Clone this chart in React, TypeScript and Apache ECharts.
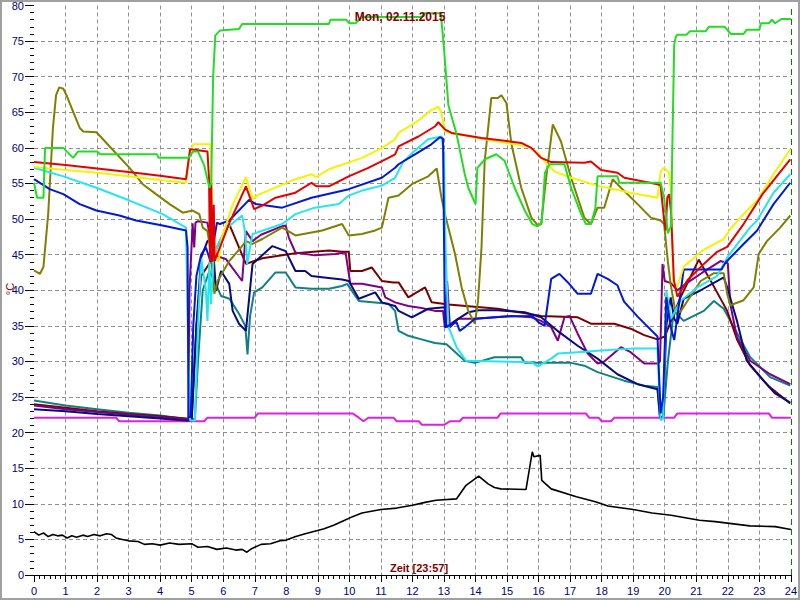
import React, { useEffect, useRef } from "react";
import * as echarts from "echarts";

// ---- data: [hour, °C] ----
const hourTicks = Array.from({ length: 25 }, (_, i) => String(i));
const tempTicks = Array.from({ length: 17 }, (_, i) => String(i * 5));

const greenData = [[0,55.1],[0.1,53],[0.3,53],[0.35,60],[0.93,60],[1.24,58.6],[1.4,59.5],[2.0,59.5],[2.1,59.1],[3.9,59.1],[3.95,58.6],[4.9,58.6],[5.05,59.5],[5.2,59.5],[5.4,57.5],[5.56,54.4],[5.62,55],[5.68,70],[5.75,75.8],[5.9,76.5],[6.5,76.7],[6.6,77.4],[9.35,77.4],[9.4,78.0],[9.9,78.0],[10.0,77.5],[10.2,77.5],[10.4,78.4],[12.3,78.4],[12.35,78.9],[12.9,78.9],[13.0,74],[13.14,66],[13.4,61.9],[13.66,56.3],[13.77,54.4],[14.0,52.1],[14.06,57.2],[14.3,58.4],[14.66,59.1],[14.92,58.2],[15.24,54.4],[15.56,51.2],[15.8,49.3],[15.95,49.0],[16.1,49.5],[16.2,56.5],[16.35,57.7],[16.82,57.7],[17.03,54.4],[17.35,50.7],[17.5,49.3],[17.66,49.3],[17.8,51.5],[17.87,56.0],[18.5,56.0],[18.56,55.1],[19.87,55.1],[19.98,53],[20.1,48],[20.2,49],[20.24,60],[20.3,74.5],[20.35,75.6],[20.4,75.9],[20.7,75.9],[20.8,76.4],[21.3,76.4],[21.4,77.0],[21.9,77.0],[22.1,76.0],[22.5,76.0],[22.6,76.6],[23.0,76.6],[23.05,77.5],[23.3,77.5],[23.4,78.0],[23.5,77.5],[23.7,78.1],[24,78.1]];

const yellowData = [[0,57.3],[1,56.9],[2,56.5],[3,56],[4,55.5],[4.82,55.1],[4.92,59],[5.05,60.5],[5.6,60.5],[5.65,52],[5.75,45],[5.85,44],[5.95,47.3],[6.3,52],[6.72,55.9],[6.93,52.8],[7.1,53.4],[8.29,55.6],[8.8,56.3],[8.95,55.9],[9.35,57],[10.4,58.6],[11.03,60],[11.45,61.2],[11.56,62.1],[12.08,63.5],[12.6,65.3],[12.82,65.8],[12.92,64.9],[13.03,62.3],[13.24,62.1],[14.08,61.4],[14.7,60.9],[15.66,60.2],[15.98,59.3],[16.19,58.1],[16.5,56.7],[17.03,55.8],[17.87,54.7],[18.9,53.7],[19.77,53.0],[19.87,56.7],[19.98,57.2],[20.14,56.5],[20.19,54.0],[20.28,41],[20.4,40.5],[20.6,43.3],[21.2,45.6],[21.87,47.2],[22.08,48.6],[22.5,50.7],[22.93,52.6],[23.45,56.3],[23.98,59.8]];

const redData = [[0,58.0],[1,57.6],[2,57.1],[3,56.6],[4,56.1],[4.82,55.6],[4.95,59.8],[5.5,59.5],[5.55,55.7],[5.58,44],[5.62,55],[5.66,44],[5.7,52],[5.73,44.1],[5.77,44.6],[6.2,49.5],[6.72,54.6],[6.98,51.4],[7.24,51.9],[7.66,53],[8.29,53.7],[8.8,55.1],[8.95,54.6],[9.35,54.6],[9.98,56],[10.6,57.2],[11.24,58.6],[11.45,59.1],[11.56,60.2],[12.19,61.6],[12.71,63.0],[12.82,63.6],[13.03,62.6],[13.24,62.1],[14.19,61.4],[14.92,61.0],[15.45,60.7],[15.77,60.0],[16.08,58.6],[16.4,58.0],[17.45,57.9],[17.66,58.1],[17.98,56.9],[18.5,56.5],[18.72,55.8],[19.77,54.9],[19.87,54.7],[19.98,49.8],[20.03,48.4],[20.08,53],[20.14,53.5],[20.2,51],[20.29,41.4],[20.4,39.1],[20.72,41.4],[21.24,43.7],[21.66,45.4],[21.98,46.1],[22.5,49.3],[23.1,53.5],[23.55,56],[23.98,58.4]];

const oliveData = [[0,42.8],[0.19,42.3],[0.3,43.3],[0.45,50.7],[0.6,62.8],[0.7,67.4],[0.8,68.5],[0.93,68.3],[1.03,67.4],[1.24,65.1],[1.45,62.8],[1.56,62.3],[1.98,62.2],[2.4,60.2],[3.03,57.2],[3.45,54.9],[3.87,53.5],[4.3,52.1],[4.72,50.9],[5.03,51.2],[5.24,50.7],[5.35,48.8],[5.5,48.3],[5.6,45.5],[5.72,39.5],[5.82,41.3],[6.19,44.1],[6.56,46],[6.72,46.9],[6.93,46.5],[7.24,47.2],[7.87,48.8],[8.29,47.7],[9.14,48.4],[9.77,49.3],[9.98,47.7],[10.4,47.9],[10.82,48.4],[11.03,48.8],[11.24,53],[11.56,53.3],[11.98,54.9],[12.5,56],[12.77,57.1],[12.92,53.0],[13.03,50.7],[13.35,45.1],[13.56,40.4],[13.77,37.1],[13.98,35.3],[14.08,38.5],[14.19,46],[14.29,58.1],[14.5,67],[14.71,67],[14.82,67.4],[14.98,66.3],[15.14,60.5],[15.45,54.4],[15.77,50.2],[15.98,49.1],[16.08,49.3],[16.24,55.8],[16.45,63.3],[16.71,60.9],[17.03,55.8],[17.45,50.2],[17.66,49.3],[17.87,51.6],[18.08,51.6],[18.35,55.6],[18.5,54.9],[19.14,52.1],[19.56,50.2],[19.87,49.8],[19.98,49.3],[20.1,44],[20.19,40.8],[20.35,36.7],[20.5,37],[20.72,38.5],[21.14,41.3],[21.56,42.4],[21.87,42.4],[21.98,39.5],[22.08,37.9],[22.5,38.6],[22.82,40.4],[22.98,45.1],[23.24,46.9],[23.66,48.8],[23.98,50.5]];

const blueData = [[0,55.6],[0.5,54.2],[0.93,53.5],[1.45,52.1],[1.98,51.2],[2.71,50.5],[3.24,49.8],[4.08,49.1],[4.82,48.4],[4.87,46],[4.9,22.2],[4.97,22.2],[5.05,35],[5.15,42],[5.3,45],[5.45,46],[5.6,44],[5.8,49.5],[5.9,49.3],[6.19,49.8],[6.82,52.7],[7.03,52.1],[7.87,51.6],[8.8,53],[9.98,54.2],[11.03,55.8],[11.45,57.2],[11.56,57.7],[12.08,59.1],[12.6,60.5],[12.87,61.5],[12.97,61.3],[13.03,34.8],[13.4,35.5],[13.5,34.3],[13.66,34.8],[13.98,36],[15.0,36.3],[15.8,36.4],[16.0,35.5],[16.19,35],[16.4,41.6],[16.66,42.3],[16.93,41.1],[17.24,39.5],[17.66,39.5],[17.87,42.3],[18.19,41.6],[18.5,40.7],[18.71,38.4],[19.14,36.3],[19.77,33.5],[19.87,22.7],[19.95,25],[20.05,39],[20.19,34.8],[20.3,33],[20.6,42.9],[21.8,42.9],[21.93,43.9],[22.5,46.5],[22.93,48.4],[23.45,52.1],[23.98,55.1]];

const cyanData = [[0,57.2],[0.93,56],[1.98,54.4],[3.03,52.6],[4.08,50.7],[4.82,48.8],[4.9,30],[4.95,21.7],[5.1,21.7],[5.2,35],[5.3,44.5],[5.45,40],[5.5,35.7],[5.56,44],[5.61,38],[5.7,45],[5.9,47],[6.1,48.7],[6.6,50.5],[6.7,48],[6.76,43.7],[6.85,46],[6.93,47.9],[7.87,49.3],[8.29,50.7],[8.9,51.6],[9.67,52.1],[9.98,53.3],[10.4,54],[11.03,54.7],[11.45,55.8],[11.7,58],[12.0,59.3],[12.5,61.2],[12.92,61.6],[13.0,59],[13.05,46],[13.14,34.9],[13.4,32],[13.7,30.1],[15.77,29.9],[15.98,29.3],[16.4,30.4],[16.61,31.1],[17.24,31.3],[17.87,31.5],[18.92,31.8],[19.77,31.8],[19.87,21.7],[19.95,22],[20.05,39.9],[20.2,36],[20.5,38.5],[21.03,40.4],[21.66,42],[21.98,44.6],[22.29,46.4],[22.7,48.8],[22.93,49.8],[23.45,53.7],[23.98,56.3]];

const navyData = [[0,23.3],[1,23.0],[2,22.6],[3,22.3],[4,22.0],[4.82,21.7],[5.0,21.7],[5.15,35],[5.3,44.6],[5.5,46.9],[5.66,47.3],[5.77,39.9],[5.93,42.7],[6.19,40.9],[6.3,37.1],[6.5,35.3],[6.72,34.3],[6.93,43.7],[7.56,46.2],[7.98,45.5],[8.29,42.7],[8.6,42.7],[8.8,42.0],[9.2,41.8],[9.77,41.5],[9.98,41.3],[10.3,38.8],[10.82,39.7],[11.03,38.3],[11.45,37.8],[11.56,37.1],[11.98,36.2],[12.5,37.4],[13.03,37.6],[13.08,34.8],[13.35,35.7],[13.77,36.9],[14.1,37.2],[14.71,37.2],[15.56,36.9],[16.08,36.2],[16.6,34.3],[17.24,32.2],[17.87,30.4],[18.5,28.2],[19.14,26.8],[19.77,26.1],[19.85,22.2],[19.95,22.2],[20.05,35],[20.19,39],[20.3,36],[20.4,35.3],[20.6,38.8],[21.14,40],[21.87,41.8],[21.98,40.4],[22.29,35.7],[22.6,30.1],[23.13,27.3],[23.5,25.5],[23.98,24.2]];

const tealData = [[0,24.5],[1,23.8],[2,23.3],[3,22.8],[4,22.4],[4.82,21.9],[5.1,21.9],[5.2,30],[5.35,40],[5.56,42.7],[5.75,41],[5.93,39.2],[6.2,38.8],[6.5,36.7],[6.7,35],[6.77,31.0],[6.85,36.3],[6.98,39.7],[7.24,40.4],[7.66,42.5],[7.98,42.5],[8.29,40.4],[8.8,40.2],[9.35,40.2],[9.77,40.6],[9.93,40.9],[10.3,38.5],[11.24,38.1],[11.45,37.1],[11.56,34.3],[11.87,33.6],[12.29,33.1],[12.71,32.6],[13.08,32.4],[13.66,30.1],[13.98,29.8],[14.6,30.6],[15.45,30.6],[15.56,29.8],[17.03,29.8],[17.45,29.4],[17.87,28.5],[18.71,27.3],[19.35,26.6],[19.77,26.4],[19.85,22],[19.95,22],[20.1,30],[20.29,37.1],[20.6,35.7],[21.24,37.1],[21.56,38.5],[21.87,37.4],[22.19,34.8],[22.71,30.6],[23.34,27.8],[23.98,26.6]];

const purpleData = [[0,23.8],[1,23.3],[2,22.9],[3,22.5],[4,22.2],[4.82,21.9],[4.9,22],[4.93,40],[5.03,49.4],[5.08,46],[5.12,49.5],[5.2,49.7],[5.5,49.5],[5.6,46.9],[5.8,44.8],[6.08,44.4],[6.6,41.3],[6.72,48.3],[6.93,46.9],[7.2,47.8],[7.87,49.0],[7.98,49.1],[8.08,47.4],[8.29,45.3],[8.9,44.9],[9.56,45.1],[9.88,45.3],[10.03,40.9],[10.4,40.9],[11.03,40.4],[11.14,39.0],[11.45,38.3],[11.87,37.8],[12.29,37.5],[12.71,37.1],[12.97,37.1],[13.03,34.8],[13.1,41.3],[13.19,34.8],[13.45,36],[13.98,36],[15.14,36.4],[15.77,36.2],[16.08,35.7],[16.4,34.8],[16.61,32.9],[16.82,36.2],[16.98,36.4],[17.24,33.9],[17.56,31.1],[17.87,29.7],[18.08,30.0],[18.61,32.0],[18.92,31.3],[19.35,29.7],[19.77,29.7],[19.85,30],[19.93,43.7],[20.0,41.3],[20.2,41],[20.4,40],[20.7,41],[21.2,42.5],[21.77,44.1],[22.0,43.8],[22.08,38.0],[22.29,33.4],[22.71,30.1],[23.34,28.2],[23.98,26.8]];

const maroonData = [[0,24.0],[1,23.5],[2,23.0],[3,22.6],[4,22.3],[4.82,22.0],[5.0,22.0],[5.15,35],[5.3,42],[5.6,44],[5.9,47],[6.19,49.3],[6.72,43.7],[7.24,44.5],[8.29,45.2],[9.35,45.6],[9.77,45.4],[9.98,45.4],[10.03,42.7],[10.4,42.7],[10.71,43.2],[11.03,41.3],[11.4,41.1],[11.56,41.1],[11.87,39.0],[12.4,40.4],[12.61,38.3],[13.14,38.0],[14.71,37.4],[16.08,36.4],[17.24,36.2],[17.66,35.3],[18.4,35.3],[18.92,34.6],[19.35,33.7],[19.77,33.1],[20.0,33.5],[20.5,39],[21.08,44.3],[21.5,41],[21.98,37.1],[22.3,33],[22.7,29.5],[23.3,26.5],[23.98,24.1]];

const magentaData = [[0,22.1],[2.6,22.1],[2.7,21.6],[5.4,21.6],[5.5,22.1],[7.0,22.1],[7.1,22.7],[10.1,22.7],[10.3,22.1],[10.45,21.6],[10.6,22.1],[11.4,22.1],[11.5,21.6],[12.2,21.6],[12.3,21.1],[13.0,21.1],[13.2,21.6],[13.5,21.6],[13.6,22.1],[14.7,22.1],[14.8,22.7],[17.5,22.7],[17.6,22.1],[17.9,22.1],[18.0,21.6],[18.3,21.6],[18.4,22.1],[20.3,22.1],[20.4,22.7],[23.3,22.7],[23.4,22.1],[24,22.1]];

const outsideData = [[0,6.1],[0.15,5.6],[0.3,5.9],[0.45,5.4],[0.6,5.7],[0.75,5.5],[0.9,5.6],[1.05,5.2],[1.2,5.5],[1.35,5.3],[1.55,5.6],[1.7,5.4],[1.9,5.7],[2.1,5.5],[2.3,5.8],[2.45,5.7],[2.6,5.2],[2.8,5.0],[3.0,4.8],[3.3,4.7],[3.5,4.3],[3.75,4.4],[4.0,4.2],[4.3,4.5],[4.6,4.3],[5.0,4.4],[5.2,3.9],[5.5,4.0],[5.8,3.6],[6.1,3.8],[6.4,3.5],[6.6,3.6],[6.75,3.2],[6.9,3.7],[7.2,4.3],[7.5,4.4],[7.8,4.8],[8.0,4.9],[8.3,5.4],[8.6,5.8],[9.2,6.5],[9.5,7.0],[9.8,7.6],[10.1,8.2],[10.4,8.7],[11.0,9.2],[11.5,9.4],[12.0,9.8],[12.4,10.2],[12.75,10.5],[13.4,10.7],[13.7,12.6],[14.1,13.9],[14.4,12.8],[14.6,12.3],[14.8,12.1],[15.6,12.0],[15.8,17.3],[15.85,16.6],[16.05,16.8],[16.1,13.3],[16.4,12.1],[17.2,11.0],[17.8,10.3],[18.2,9.7],[19.0,9.2],[19.6,8.7],[20.2,8.4],[21.1,7.7],[21.6,7.5],[22.7,6.9],[23.5,6.8],[24,6.4]];

const seriesDefs = [
  { name: "outside", color: "#000000", width: 1.6, data: outsideData },
  { name: "magenta", color: "#e020e0", width: 2, data: magentaData },
  { name: "teal", color: "#108080", width: 2, data: tealData },
  { name: "maroon", color: "#7a0000", width: 2, data: maroonData },
  { name: "purple", color: "#800080", width: 2, data: purpleData },
  { name: "navy", color: "#0a0a80", width: 2, data: navyData },
  { name: "olive", color: "#808000", width: 2, data: oliveData },
  { name: "cyan", color: "#22e6f0", width: 2, data: cyanData },
  { name: "blue", color: "#0018d8", width: 2, data: blueData },
  { name: "yellow", color: "#f4f400", width: 2, data: yellowData },
  { name: "red", color: "#e80000", width: 2, data: redData },
  { name: "green", color: "#22dd22", width: 2, data: greenData },
];

const FONT = '"Liberation Sans", Arial, sans-serif';

export default function App() {
  const ref = useRef<HTMLDivElement>(null);
  useEffect(() => {
    if (!ref.current) return;
    const chart = echarts.init(ref.current, null, { renderer: "svg" });
    const series: any[] = seriesDefs.map((s, i) => ({
      type: "line",
      name: s.name,
      data: s.data,
      showSymbol: false,
      symbol: "none",
      z: 2 + i * 0.01,
      lineStyle: { color: s.color, width: s.width },
      itemStyle: { color: s.color },
    }));
    series.push({
      type: "line",
      name: "now",
      data: [],
      markLine: {
        silent: true,
        symbol: "none",
        label: { show: false },
        lineStyle: { color: "#008000", type: [6, 4], width: 1 },
        data: [{ xAxis: 24 }],
      },
    });
    chart.setOption({
      animation: false,
      backgroundColor: "#ffffff",
      grid: { left: 34, right: 6, top: 4, bottom: 25, containLabel: false },
      xAxis: {
        type: "value",
        min: 0,
        max: 24,
        interval: 1,
        axisLine: { show: true, lineStyle: { color: "#000", width: 1 } },
        axisTick: { show: true, length: 7, lineStyle: { color: "#000" } },
        minorTick: { show: true, splitNumber: 6, length: 4, lineStyle: { color: "#000" } },
        axisLabel: {
          color: "#000080",
          fontSize: 11,
          fontFamily: FONT,
          margin: 10,
          formatter: (v: number) => hourTicks[Math.round(v)] ?? String(v),
        },
        splitLine: {
          show: true,
          showMinLine: false,
          showMaxLine: false,
          lineStyle: { color: "#909090", type: [4, 3], width: 1 },
        },
      },
      yAxis: {
        type: "value",
        min: 0,
        max: 80,
        interval: 5,
        axisLine: { show: false },
        axisTick: { show: true, length: 9, lineStyle: { color: "#000" } },
        minorTick: { show: true, splitNumber: 5, length: 4, lineStyle: { color: "#000" } },
        axisLabel: {
          color: "#000080",
          fontSize: 11,
          fontFamily: FONT,
          margin: 10,
          formatter: (v: number) => tempTicks[Math.round(v / 5)] ?? String(v),
        },
        splitLine: {
          show: true,
          showMinLine: false,
          showMaxLine: false,
          lineStyle: { color: "#909090", type: [4, 3], width: 1 },
        },
      },
      graphic: [
        {
          type: "rect",
          shape: { x: 1, y: 1, width: 798, height: 598 },
          style: { fill: "none", stroke: "#a0a0a0", lineWidth: 2 },
          z: 100,
          silent: true,
        },
        {
          type: "text",
          x: 400,
          y: 17,
          z: 100,
          style: {
            text: "Mon, 02.11.2015",
            fill: "#800000",
            font: `bold 12px ${FONT}`,
            textAlign: "center",
            textVerticalAlign: "middle",
            align: "center",
            verticalAlign: "middle",
          },
        },
        {
          type: "text",
          x: 419,
          y: 568,
          z: 100,
          style: {
            text: "Zeit [23:57]",
            fill: "#800000",
            font: `bold 11px ${FONT}`,
            textAlign: "center",
            textVerticalAlign: "middle",
            align: "center",
            verticalAlign: "middle",
          },
        },
        {
          type: "text",
          x: 10,
          y: 289,
          rotation: Math.PI / 2,
          z: 100,
          style: {
            text: "°C",
            fill: "#800000",
            font: `11px ${FONT}`,
            textAlign: "center",
            textVerticalAlign: "middle",
            align: "center",
            verticalAlign: "middle",
          },
        },
      ],
      series,
    });
    return () => chart.dispose();
  }, []);
  return (
    <div
      ref={ref}
      style={{ position: "absolute", left: 0, top: 0, width: 800, height: 600 }}
    />
  );
}
